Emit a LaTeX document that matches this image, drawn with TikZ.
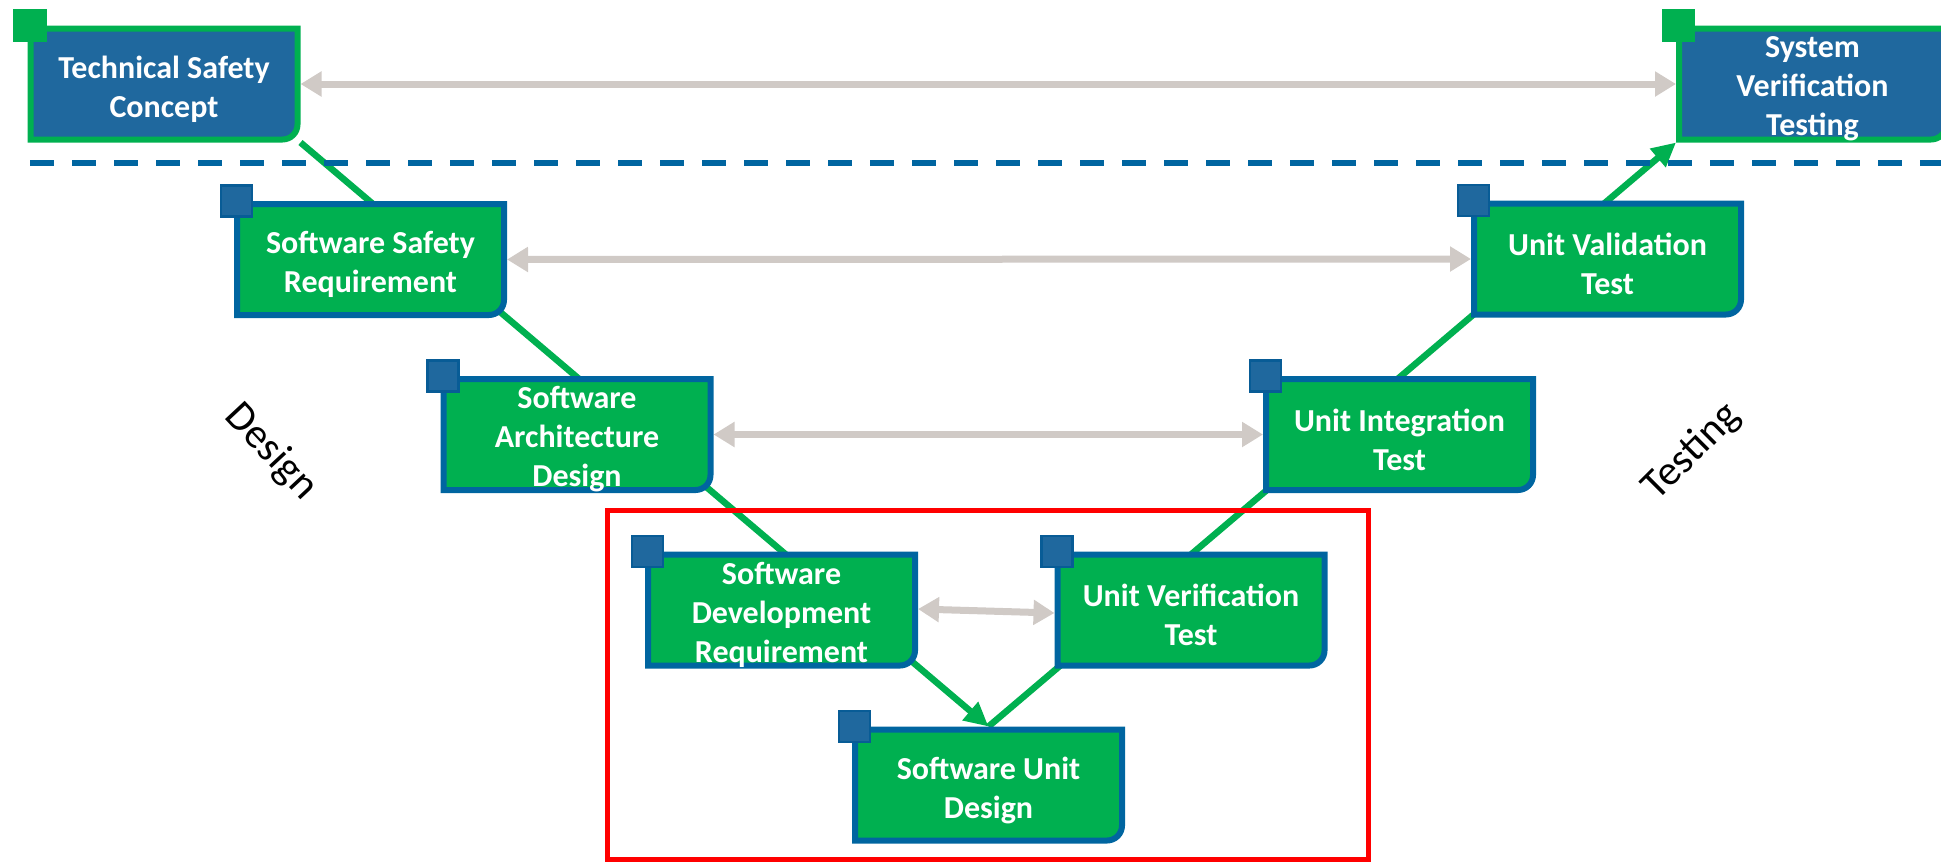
\documentclass[tikz,border=0pt]{standalone}
\usepackage{fontspec}
\setmainfont{Carlito}
\usetikzlibrary{arrows.meta,calc}

\definecolor{vgreen}{RGB}{0,176,80}
\definecolor{vnavy}{RGB}{31,104,158}
\definecolor{vedge}{RGB}{0,101,160}
\definecolor{vsq}{RGB}{31,104,158}
\definecolor{vsqedge}{RGB}{8,92,150}
\definecolor{vgrey}{RGB}{208,202,198}
\definecolor{vred}{RGB}{255,0,0}

\pgfdeclarelayer{links}
\pgfdeclarelayer{marks}
\pgfdeclarelayer{boxes}
\pgfsetlayers{links,marks,boxes,main}

% frame of a stage: square corners except the rounded lower right one
\newcommand\stageframe[3]{%
  \begin{pgfonlayer}{boxes}
    \path[fill=#2, draw=#3, line width=6pt]
      ([shift={(3pt,-3pt)}]#1.north west) -- ([shift={(-3pt,-3pt)}]#1.north east)
      -- ([shift={(-3pt,18pt)}]#1.south east)
      arc[start angle=0, end angle=-90, radius=15pt]
      -- ([shift={(3pt,3pt)}]#1.south west) -- cycle;
  \end{pgfonlayer}}

\tikzset{
  stage/.style={minimum width=273pt, minimum height=117pt, inner sep=0pt,
    outer sep=0pt},
  stagetext/.style={inner sep=0pt, align=center, text=white,
    font=\bfseries\fontsize{32}{39}\selectfont},
  corner/.style={minimum size=31pt, inner sep=0pt, line width=2.5pt,
    fill=vsq, draw=vsqedge},
  topcorner/.style={corner, fill=vgreen, draw=vgreen},
  link/.style={draw=vgreen, line width=6.5pt, -{Triangle[length=24pt,width=23pt]}},
  pair/.style={draw=vgrey, line width=7pt,
    {Triangle[length=21pt,width=24pt]}-{Triangle[length=21pt,width=24pt]}},
  side/.style={font=\fontsize{42}{48}\selectfont},
}

\begin{document}
\begin{tikzpicture}[x=1pt, y=1pt]
\useasboundingbox (0,0) rectangle (1941,-863);

% stages of the V
\node[stage] (tsc)  at (164,-84)       {};
\node[stage] (ssr)  at (370.5,-259.5)  {};
\node[stage] (sad)  at (577,-434.5)    {};
\node[stage] (sdr)  at (781.5,-610)    {};
\node[stage] (sud)  at (988.5,-785)    {};
\node[stage] (uvt)  at (1191,-610)     {};
\node[stage] (uit)  at (1399.5,-434.5) {};
\node[stage] (uvat) at (1607.5,-259)   {};
\node[stage] (svt)  at (1812.5,-84)    {};

\stageframe{tsc}{vnavy}{vgreen}
\stageframe{svt}{vnavy}{vgreen}
\stageframe{ssr}{vgreen}{vedge}
\stageframe{sad}{vgreen}{vedge}
\stageframe{sdr}{vgreen}{vedge}
\stageframe{sud}{vgreen}{vedge}
\stageframe{uvt}{vgreen}{vedge}
\stageframe{uit}{vgreen}{vedge}
\stageframe{uvat}{vgreen}{vedge}

% stage titles
\node[stagetext] (tsc-t)  at ([yshift=-5pt]tsc.center)  {Technical Safety\\Concept};
\node[stagetext] (ssr-t)  at ([yshift=-5pt]ssr.center)  {Software Safety\\Requirement};
\node[stagetext] (sad-t)  at ([yshift=-5pt]sad.center)  {Software\\Architecture\\Design};
\node[stagetext] (sdr-t)  at ([yshift=-5pt]sdr.center)  {Software\\Development\\Requirement};
\node[stagetext] (sud-t)  at ([yshift=-5pt]sud.center)  {Software Unit\\Design};
\node[stagetext] (uvt-t)  at ([yshift=-5pt]uvt.center)  {Unit Verification\\Test};
\node[stagetext] (uit-t)  at ([yshift=-5pt]uit.center)  {Unit Integration\\Test};
\node[stagetext] (uvat-t) at ([yshift=-5pt]uvat.center) {Unit Validation\\Test};
\node[stagetext] (svt-t)  at ([yshift=-5pt]svt.center)  {System\\Verification\\Testing};

% corner tabs
\node[topcorner] (ctsc) at ([xshift=2.5pt]tsc.north west) {};
\node[topcorner] (csvt) at ([xshift=2.5pt]svt.north west) {};
\node[corner] (cssr)  at ([xshift=2.5pt]ssr.north west) {};
\node[corner] (csad)  at ([xshift=2.5pt]sad.north west) {};
\node[corner] (csdr)  at ([xshift=2.5pt]sdr.north west) {};
\node[corner] (csud)  at ([xshift=2.5pt]sud.north west) {};
\node[corner] (cuvt)  at ([xshift=2.5pt]uvt.north west) {};
\node[corner] (cuit)  at ([xshift=2.5pt]uit.north west) {};
\node[corner] (cuvat) at ([xshift=2.5pt]uvat.north west) {};

% the two arms of the V
\begin{pgfonlayer}{links}
  \draw[link] (tsc.south east) -- (sud.north);
  \draw[link] (sud.north) -- (svt.south west);
\end{pgfonlayer}

% level boundary, focus frame and correspondences
\begin{pgfonlayer}{marks}
  \draw[vedge, line width=5.5pt, dash pattern=on 24pt off 18pt]
    (30,-163) -- (1945,-163);
  \draw[vred, line width=5pt] (607,-510) rectangle (1368,-859);
  \draw[pair] (tsc.east) -- (svt.west);
  \draw[pair] (ssr.east) -- (uvat.west);
  \draw[pair] (sad.east) -- (uit.west);
  \draw[pair] ([yshift=1pt]sdr.east) -- ([yshift=-3pt]uvt.west);
\end{pgfonlayer}

% side captions
\node[side, rotate=-47] (design)  at (271,-452)  {Design};
\node[side, rotate=45]  (testing) at (1692,-452) {Testing};
\end{tikzpicture}
\end{document}
